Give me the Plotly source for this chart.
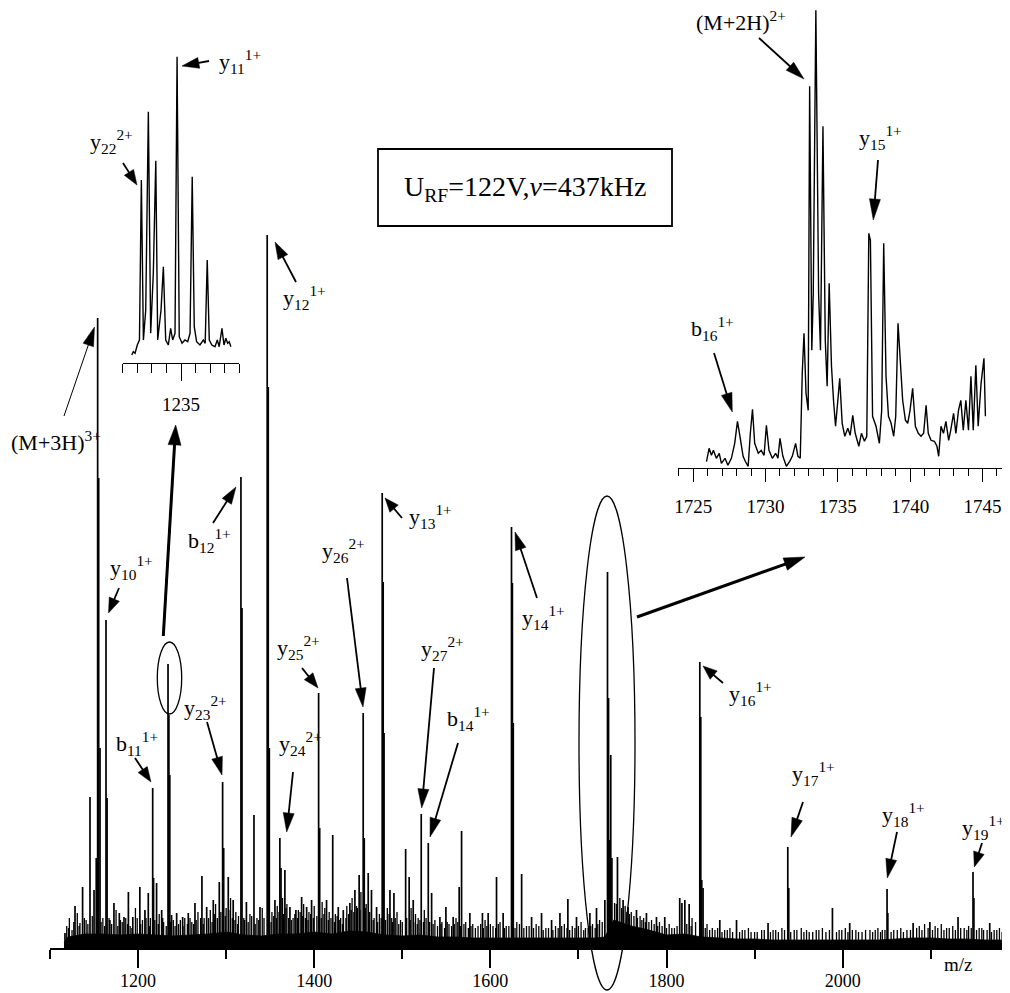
import math
import plotly.graph_objects as go

# ---------------- data ----------------
# main spectrum: resolved peaks (m/z, relative intensity, arbitrary units)
peak_mz = [1117.0, 1128.4, 1137.0, 1145.4, 1150.0, 1152.5, 1154.1, 1155.3, 1156.8, 1163.6,
           1164.8, 1168.0, 1172.6, 1178.7, 1184.0, 1189.0, 1194.0, 1202.0, 1207.8, 1211.6,
           1216.6, 1217.6, 1221.0, 1226.8, 1234.0, 1235.0, 1236.0, 1238.0, 1243.8, 1250.6,
           1257.0, 1264.6, 1272.5, 1277.9, 1285.4, 1292.2, 1296.0, 1297.2, 1302.4, 1308.0,
           1316.8, 1318.0, 1323.0, 1331.6, 1338.4, 1346.6, 1347.8, 1349.0, 1355.4, 1361.0,
           1362.3, 1366.7, 1372.4, 1379.2, 1385.7, 1391.4, 1397.0, 1405.0, 1406.2, 1414.0,
           1421.0, 1427.3, 1433.0, 1440.5, 1446.2, 1451.0, 1455.6, 1456.8, 1461.3, 1465.0,
           1470.8, 1477.2, 1478.3, 1479.3, 1486.0, 1490.5, 1503.8, 1507.8, 1512.4, 1521.5,
           1529.5, 1533.3, 1542.7, 1549.5, 1557.8, 1564.6, 1567.3, 1576.7, 1591.0, 1597.5,
           1607.0, 1614.5, 1624.0, 1625.0, 1626.0, 1635.5, 1646.8, 1658.1, 1669.5, 1679.0,
           1688.0, 1697.8, 1713.0, 1720.5, 1730.0, 1733.0, 1734.2, 1735.3, 1736.7, 1738.0,
           1744.3, 1750.7, 1756.4, 1765.9, 1777.2, 1788.6, 1798.0, 1815.0, 1817.5, 1820.8,
           1825.7, 1837.8, 1838.9, 1840.0, 1841.5, 1860.5, 1879.5, 1915.3, 1937.7, 1938.8,
           1988.4, 2008.0, 2050.4, 2051.3, 2080.0, 2099.0, 2131.0, 2148.0, 2149.0, 2167.0]
peak_int = [15, 42, 61, 151, 58, 90, 630, 470, 200, 328,
            150, 28, 45, 35, 31, 56, 31, 61, 38, 55,
            160, 70, 65, 38, 284, 233, 173, 33, 35, 31,
            35, 45, 72, 41, 48, 66, 166, 100, 71, 48,
            471, 340, 46, 133, 41, 713, 561, 200, 48, 110,
            80, 78, 41, 38, 51, 41, 48, 255, 120, 48,
            113, 41, 38, 45, 58, 73, 235, 110, 75, 58,
            41, 455, 366, 215, 58, 55, 99, 71, 48, 134,
            105, 55, 31, 41, 31, 61, 117, 35, 35, 35,
            71, 35, 421, 365, 225, 74, 31, 35, 28, 35,
            49, 31, 35, 40, 48, 376, 250, 108, 193, 90,
            91, 48, 41, 38, 35, 31, 31, 50, 45, 48,
            44, 286, 231, 68, 60, 28, 28, 25, 101, 60,
            40, 25, 59, 35, 25, 26, 31, 76, 50, 25]

# chemical-noise spikes ("grass"), first set
grass_mz = [1119, 1122, 1125, 1131, 1134, 1141, 1148, 1160, 1170, 1175, 1182, 1186, 1191, 1197,
            1205, 1214, 1224, 1229, 1240, 1246, 1253, 1261, 1268, 1275, 1282, 1288, 1300, 1305,
            1311, 1314, 1321, 1327, 1335, 1341, 1352, 1358, 1364, 1369, 1376, 1382, 1388, 1394,
            1400, 1409, 1412, 1417, 1424, 1430, 1437, 1443, 1449, 1453, 1459, 1463, 1468, 1474,
            1483, 1488, 1494, 1498, 1510, 1515, 1518, 1525, 1537, 1545, 1553, 1561, 1572, 1580,
            1586, 1594, 1600, 1611, 1618, 1630, 1641, 1652, 1663, 1674, 1684, 1693, 1703, 1708,
            1716, 1724, 1741, 1747, 1753, 1760, 1770, 1774, 1783, 1792, 1803, 1809, 1829, 1833,
            1846, 1852, 1866, 1872, 1886, 1893, 1900, 1908, 1924, 1931, 1945, 1953, 1962, 1970,
            1977, 1996, 2003, 2015, 2022, 2031, 2040, 2045, 2058, 2066, 2073, 2087, 2093, 2105,
            2112, 2118, 2125, 2138, 2143, 2155, 2160, 2172, 2178]
grass_int = [22, 30, 18, 35, 25, 28, 32, 30, 24, 38, 26, 30, 22, 40,
             28, 30, 34, 26, 28, 24, 30, 26, 36, 30, 38, 44, 40, 50,
             36, 32, 28, 34, 30, 40, 36, 42, 50, 44, 30, 38, 44, 36,
             42, 46, 40, 36, 34, 30, 42, 50, 40, 56, 44, 36, 30, 34,
             40, 30, 36, 28, 40, 34, 30, 38, 28, 26, 24, 30, 26, 24,
             22, 28, 24, 26, 22, 26, 22, 24, 20, 22, 24, 22, 26, 20,
             24, 28, 45, 50, 42, 36, 32, 30, 28, 26, 24, 20, 30, 26,
             24, 20, 18, 20, 18, 20, 16, 18, 18, 20, 18, 20, 16, 18,
             20, 18, 20, 18, 16, 18, 20, 18, 18, 20, 18, 22, 24, 22,
             24, 20, 22, 20, 22, 20, 18, 18, 20]

# chemical-noise spikes, second (denser, lower) set
grass2_mz = [1121, 1127, 1133, 1139, 1143, 1158, 1162, 1167, 1177, 1180, 1188, 1193, 1199, 1203,
             1209, 1213, 1219, 1223, 1228, 1232, 1237, 1242, 1248, 1251, 1256, 1259, 1263, 1266,
             1271, 1274, 1280, 1284, 1287, 1290, 1294, 1299, 1303, 1307, 1310, 1313, 1320, 1325,
             1329, 1333, 1337, 1343, 1351, 1354, 1357, 1360, 1365, 1368, 1371, 1374, 1378, 1381,
             1384, 1387, 1390, 1393, 1396, 1399, 1403, 1408, 1411, 1416, 1419, 1423, 1426, 1429,
             1432, 1436, 1439, 1442, 1445, 1448, 1452, 1458, 1462, 1467, 1472, 1476, 1481, 1485,
             1489, 1492, 1496, 1500, 1505, 1509, 1513, 1517, 1520, 1524, 1527, 1531, 1535, 1540,
             1544, 1548, 1551, 1556, 1559, 1563, 1566, 1570, 1575, 1578, 1583, 1589, 1592, 1596,
             1603, 1606, 1609, 1616, 1621, 1628, 1633, 1638, 1644, 1649, 1655, 1660, 1666, 1671,
             1677, 1681, 1687, 1690, 1696, 1700, 1706, 1711, 1714, 1719, 1722, 1727, 1737, 1743,
             1749, 1751, 1755, 1758, 1763, 1767, 1772, 1776, 1780, 1786, 1790, 1795, 1800, 1806,
             1812, 1823, 1828, 1844, 1849, 1855, 1858, 1863, 1869, 1875, 1883, 1889, 1896, 1903,
             1911, 1918, 1921, 1927, 1934, 1941, 1948, 1956, 1959, 1966, 1973, 1981, 1985, 1993,
             1999, 2006, 2011, 2018, 2026, 2034, 2037, 2043, 2048, 2055, 2062, 2069, 2077, 2084,
             2090, 2097, 2102, 2108, 2115, 2121, 2128, 2134, 2141, 2146, 2152, 2158, 2164, 2169,
             2175, 2181]
grass2_int = [20, 26, 22, 30, 24, 26, 22, 30, 22, 28, 24, 20, 30, 24,
              30, 22, 28, 24, 30, 22, 26, 22, 28, 22, 24, 30, 24, 28,
              30, 24, 30, 26, 34, 30, 36, 32, 38, 30, 28, 24, 30, 26,
              32, 24, 28, 30, 26, 32, 30, 36, 34, 40, 30, 28, 34, 30,
              36, 32, 30, 28, 34, 30, 32, 30, 34, 28, 30, 26, 32, 28,
              24, 30, 34, 38, 36, 42, 38, 40, 34, 28, 26, 30, 28, 34,
              26, 30, 24, 26, 30, 28, 26, 24, 28, 26, 30, 26, 24, 22,
              24, 20, 26, 22, 24, 26, 22, 24, 20, 22, 20, 24, 20, 22,
              22, 20, 24, 20, 22, 20, 24, 20, 22, 20, 22, 18, 20, 18,
              20, 22, 20, 18, 20, 22, 18, 20, 22, 20, 24, 26, 40, 44,
              40, 38, 36, 34, 32, 30, 28, 26, 26, 24, 22, 22, 20, 20,
              22, 24, 22, 20, 18, 18, 20, 16, 18, 16, 16, 18, 16, 16,
              18, 16, 18, 16, 18, 16, 18, 16, 18, 16, 18, 16, 18, 16,
              18, 16, 18, 16, 18, 16, 18, 16, 18, 16, 18, 16, 18, 20,
              18, 20, 18, 20, 18, 20, 18, 20, 18, 20, 18, 20, 18, 16,
              18, 16]

# unresolved noise floor (envelope)
floor_mz = [1116, 1120, 1140, 1160, 1180, 1200, 1220, 1240, 1260, 1280, 1300, 1320, 1340, 1360,
            1380, 1400, 1420, 1440, 1460, 1480, 1500, 1520, 1540, 1560, 1580, 1600, 1620, 1640,
            1660, 1680, 1700, 1720, 1730, 1740, 1760, 1780, 1800, 1820, 1840, 1860, 1880, 1900,
            1920, 1940, 1960, 1980, 2000, 2020, 2040, 2060, 2080, 2100, 2120, 2140, 2160, 2180, 2183]
floor_int = [5, 11, 14, 14, 13, 14, 13, 12, 13, 14, 16, 13, 12, 14,
             14, 16, 14, 17, 16, 13, 12, 13, 11, 11, 10, 10, 10, 10,
             10, 10, 10, 10, 11, 28, 22, 18, 13, 14, 11, 10, 9, 9,
             8, 8, 8, 8, 8, 8, 8, 9, 10, 10, 9, 9, 8, 8, 0]

# left inset (around m/z 1235)
ins1_mz = [1231.62, 1231.73, 1231.85, 1232.0, 1232.15, 1232.28, 1232.42, 1232.58, 1232.76, 1232.92,
           1233.1, 1233.27, 1233.4, 1233.63, 1233.79, 1233.95, 1234.13, 1234.29, 1234.43, 1234.59,
           1234.73, 1234.88, 1235.07, 1235.27, 1235.46, 1235.62, 1235.77, 1235.91, 1236.07, 1236.3,
           1236.53, 1236.66, 1236.8, 1236.94, 1237.12, 1237.33, 1237.49, 1237.62, 1237.81, 1237.95,
           1238.08, 1238.2, 1238.31, 1238.42]
ins1_int = [7.7, 11, 9.4, 17.7, 22.7, 182.7, 22.7, 52.7, 251, 29.4,
            89.4, 202, 22.7, 52.7, 96, 22.7, 17.7, 34.4, 22.7, 29.4,
            306, 26, 19.4, 22.7, 21, 29.4, 186, 36, 21, 17.7,
            22.7, 19.4, 102.7, 22.7, 17.7, 16, 22.7, 16, 34.4, 17.7,
            24.4, 19.4, 21, 16]

# right inset (m/z 1725 - 1745)
ins2_mz = [1725.92, 1726.1, 1726.26, 1726.4, 1726.6, 1726.8, 1726.95, 1727.2, 1727.4, 1727.64,
           1727.87, 1728.06, 1728.2, 1728.45, 1728.6, 1728.8, 1728.95, 1729.1, 1729.25, 1729.5,
           1729.7, 1729.9, 1730.06, 1730.24, 1730.47, 1730.7, 1730.86, 1731.0, 1731.2, 1731.44,
           1731.67, 1731.85, 1732.08, 1732.24, 1732.4, 1732.54, 1732.66, 1732.8, 1732.95, 1733.05,
           1733.2, 1733.3, 1733.48, 1733.67, 1733.8, 1733.97, 1734.13, 1734.26, 1734.4, 1734.56,
           1734.7, 1734.84, 1735.0, 1735.13, 1735.3, 1735.48, 1735.69, 1735.85, 1736.03, 1736.2,
           1736.45, 1736.63, 1736.84, 1737.0, 1737.14, 1737.25, 1737.4, 1737.64, 1737.87, 1738.03,
           1738.17, 1738.33, 1738.5, 1738.68, 1738.86, 1739.0, 1739.16, 1739.3, 1739.48, 1739.67,
           1739.83, 1739.99, 1740.17, 1740.36, 1740.56, 1740.75, 1740.93, 1741.1, 1741.25, 1741.44,
           1741.67, 1741.85, 1741.97, 1742.13, 1742.3, 1742.47, 1742.66, 1742.8, 1743.0, 1743.16,
           1743.34, 1743.5, 1743.67, 1743.85, 1744.03, 1744.2, 1744.36, 1744.54, 1744.7, 1744.9,
           1745.1, 1745.2]
ins2_int = [6.7, 20, 13, 18, 10, 15, 5, 10, 3, 10,
            25, 47, 35, 12, 7, 2, 35, 59, 25, 15,
            18, 13, 43, 18, 10, 15, 10, 30, 12, 2,
            7, 12, 25, 12, 10, 95, 135, 75, 58, 382,
            118, 175, 458, 175, 118, 342, 128, 82, 185, 102,
            68, 42, 68, 90, 45, 32, 40, 33, 53, 35,
            22, 35, 27, 32, 235, 228, 52, 42, 25, 58,
            225, 92, 52, 45, 32, 52, 145, 108, 68, 48,
            45, 58, 80, 42, 35, 32, 35, 63, 35, 28,
            27, 22, 12, 42, 35, 47, 28, 38, 55, 35,
            58, 68, 38, 68, 38, 92, 38, 103, 42, 85,
            110, 52]

axis_title = "m/z"
box_text = "U<sub>RF</sub>=122V,<i>ν</i>=437kHz"

# ---------------- geometry helpers (layout only) ----------------
# the page adds an 8 px body margin, so the figure is 8 px smaller and all
# page-pixel positions below are converted with that offset.
OFF = 8
W, H = 1010 - OFF, 993 - OFF
# plot area in page pixels
PL, PR, PT, PB = 50, 1010, OFF, 948


def fx(x):
    return (x - PL) / (PR - PL)


def fy(y):
    return (PB - y) / (PB - PT)


def sticks(xs, ys):
    X, Y = [], []
    for a, b in zip(xs, ys):
        X += [a, a, None]
        Y += [0, b, None]
    return X, Y


shapes = []
annotations = []
FONT = "Liberation Serif"


def arrow(tail, tip, lw=1.8, hl=17, hw=11):
    dx, dy = tip[0] - tail[0], tip[1] - tail[1]
    L = math.hypot(dx, dy)
    ux, uy = dx / L, dy / L
    bx, by = tip[0] - ux * hl, tip[1] - uy * hl
    nx, ny = -uy, ux
    shapes.append(dict(type="line", xref="paper", yref="paper",
                       x0=fx(tail[0]), y0=fy(tail[1]),
                       x1=fx(bx + ux * 3), y1=fy(by + uy * 3),
                       line=dict(color="black", width=lw)))
    p1 = (bx + nx * hw / 2, by + ny * hw / 2)
    p2 = (bx - nx * hw / 2, by - ny * hw / 2)
    path = "M {:.5f},{:.5f} L {:.5f},{:.5f} L {:.5f},{:.5f} Z".format(
        fx(tip[0]), fy(tip[1]), fx(p1[0]), fy(p1[1]), fx(p2[0]), fy(p2[1]))
    shapes.append(dict(type="path", xref="paper", yref="paper", path=path,
                       fillcolor="black", line=dict(color="black", width=0.5)))


def label(text, cx, cy, size=22):
    annotations.append(dict(text=text, xref="paper", yref="paper", x=fx(cx), y=fy(cy),
                            xanchor="center", yanchor="middle", showarrow=False,
                            font=dict(family=FONT, size=size, color="black")))


def ellipse(cx, cy, rx, ry, lw=1.3):
    shapes.append(dict(type="circle", xref="paper", yref="paper",
                       x0=fx(cx - rx), x1=fx(cx + rx), y0=fy(cy + ry), y1=fy(cy - ry),
                       line=dict(color="black", width=lw)))


# ---------------- figure ----------------
fig = go.Figure()

fig.add_trace(go.Scatter(x=floor_mz, y=floor_int, mode="lines", fill="tozeroy",
                         fillcolor="black", line=dict(color="black", width=0.8),
                         xaxis="x", yaxis="y", hoverinfo="skip"))
g2x, g2y = sticks(grass2_mz, grass2_int)
fig.add_trace(go.Scatter(x=g2x, y=g2y, mode="lines", line=dict(color="black", width=1.3),
                         xaxis="x", yaxis="y", hoverinfo="skip"))
gx, gy = sticks(grass_mz, grass_int)
fig.add_trace(go.Scatter(x=gx, y=gy, mode="lines", line=dict(color="black", width=1.3),
                         xaxis="x", yaxis="y", hoverinfo="skip"))
sx, sy = sticks(peak_mz, peak_int)
fig.add_trace(go.Scatter(x=sx, y=sy, mode="lines", line=dict(color="black", width=1.7),
                         xaxis="x", yaxis="y"))

fig.add_trace(go.Scatter(x=ins1_mz, y=ins1_int, mode="lines",
                         line=dict(color="black", width=1.4), xaxis="x2", yaxis="y2"))
fig.add_trace(go.Scatter(x=ins2_mz, y=ins2_int, mode="lines",
                         line=dict(color="black", width=1.4), xaxis="x3", yaxis="y3"))

# ellipses and linking arrows
ellipse(169.5, 678, 12.2, 36)
ellipse(607, 743, 28, 247)
arrow((163.3, 636), (175.7, 425), lw=3, hl=20, hw=13)
arrow((637, 617), (805, 557), lw=3, hl=21, hw=13)

# peak annotations: (text, label centre, arrow tail, arrow tip, line width, head length)
ann = [
    ("y<sub>11</sub><sup>1+</sup>", (240, 61), (209, 61), (182, 66), 1.8, 17),
    ("y<sub>22</sub><sup>2+</sup>", (111, 141), (123, 163), (137, 185), 1.8, 15),
    ("(M+3H)<sup>3+</sup>", (56, 441), (64, 416), (94.5, 327), 1.0, 19),
    ("y<sub>10</sub><sup>1+</sup>", (131, 567), (119, 588), (108.5, 613), 1.8, 15),
    ("b<sub>12</sub><sup>1+</sup>", (209, 540), (213, 523), (236, 487), 1.8, 17),
    ("y<sub>12</sub><sup>1+</sup>", (304, 297), (296, 282), (275, 242), 1.8, 17),
    ("y<sub>23</sub><sup>2+</sup>", (205, 707), (207, 722), (222, 775), 1.8, 18),
    ("b<sub>11</sub><sup>1+</sup>", (137, 743), (135, 758), (151, 782), 1.8, 15),
    ("y<sub>25</sub><sup>2+</sup>", (298, 647), (302, 668), (318, 688), 1.8, 15),
    ("y<sub>24</sub><sup>2+</sup>", (300, 743), (293, 772), (286.7, 832), 1.8, 19),
    ("y<sub>26</sub><sup>2+</sup>", (343, 550), (347, 578), (363, 707), 1.8, 19),
    ("y<sub>13</sub><sup>1+</sup>", (430, 516), (402, 518), (385, 498), 1.8, 14),
    ("y<sub>27</sub><sup>2+</sup>", (442, 648), (434, 668), (421.7, 808), 1.8, 19),
    ("b<sub>14</sub><sup>1+</sup>", (468, 718), (458, 743), (430, 837), 1.8, 19),
    ("y<sub>14</sub><sup>1+</sup>", (543, 617), (537, 598), (515, 532), 1.8, 18),
    ("y<sub>16</sub><sup>1+</sup>", (750, 693), (723, 683), (703, 666), 1.8, 14),
    ("y<sub>17</sub><sup>1+</sup>", (813, 773), (803, 802), (791, 837), 1.8, 19),
    ("y<sub>18</sub><sup>1+</sup>", (903, 814), (897, 832), (887.3, 878), 1.8, 19),
    ("y<sub>19</sub><sup>1+</sup>", (983, 827), (982, 843), (974.3, 867), 1.8, 15),
    ("(M+2H)<sup>2+</sup>", (741, 21), (759, 38), (804, 79), 1.8, 19),
    ("y<sub>15</sub><sup>1+</sup>", (880, 137), (878, 160), (873.3, 220), 1.8, 21),
    ("b<sub>16</sub><sup>1+</sup>", (712, 328), (714, 353), (732.3, 412), 1.8, 19),
]
for text, c, tail, tip, lw, hl in ann:
    label(text, c[0], c[1])
    arrow(tail, tip, lw=lw, hl=hl, hw=11)

# parameter box
shapes.append(dict(type="rect", xref="paper", yref="paper",
                   x0=fx(378), x1=fx(672), y0=fy(226), y1=fy(149),
                   line=dict(color="black", width=1.8)))
label(box_text, 525, 188, size=28)
label(axis_title, 958, 964, size=19)

axis_font = dict(family=FONT, size=18, color="black")
fig.update_layout(
    width=W, height=H,
    margin=dict(l=PL - OFF, r=1010 - PR, t=PT - OFF, b=993 - PB, autoexpand=False),
    paper_bgcolor="white", plot_bgcolor="white",
    showlegend=False,
    shapes=shapes, annotations=annotations,
    xaxis=dict(domain=[0, 1], range=[1100, 2190], showgrid=False, zeroline=False,
               showline=True, linecolor="black", linewidth=1.6,
               ticks="outside", tickmode="linear", tick0=1200, dtick=200,
               ticklen=18, tickwidth=1.5, tickcolor="black",
               ticklabelstandoff=-2, tickfont=axis_font,
               minor=dict(ticks="outside", tick0=1100, dtick=100, ticklen=9,
                          tickwidth=1.5, tickcolor="black")),
    yaxis=dict(domain=[0, 1], range=[0, PB - PT], visible=False),
    xaxis2=dict(domain=[fx(122.7), fx(239.3)], range=[1231, 1239], anchor="y2",
                showgrid=False, zeroline=False, showline=True, linecolor="black",
                linewidth=1.3, ticks="outside", tickmode="linear", tick0=1235, dtick=100,
                ticklen=17, tickwidth=1.3, tickcolor="black", ticklabelstandoff=7,
                tickfont=dict(family=FONT, size=19, color="black"),
                minor=dict(ticks="outside", tick0=1231, dtick=1, ticklen=9,
                           tickwidth=1.3, tickcolor="black")),
    yaxis2=dict(domain=[fy(362.7), fy(40)], range=[0, 322.7], visible=False, anchor="x2"),
    xaxis3=dict(domain=[fx(678), 1.0], range=[1723.95, 1746.9], anchor="y3",
                showgrid=False, zeroline=False, showline=True, linecolor="black",
                linewidth=1.3, ticks="outside", tickmode="linear", tick0=1725, dtick=5,
                ticklen=13, tickwidth=1.3, tickcolor="black", ticklabelstandoff=8,
                tickfont=dict(family=FONT, size=19, color="black"),
                minor=dict(ticks="outside", tick0=1725, dtick=1, ticklen=7,
                           tickwidth=1.3, tickcolor="black")),
    yaxis3=dict(domain=[fy(468.3), 1.0], range=[0, 468.3 - PT], visible=False, anchor="x3"),
)

fig.write_html("out.html")
